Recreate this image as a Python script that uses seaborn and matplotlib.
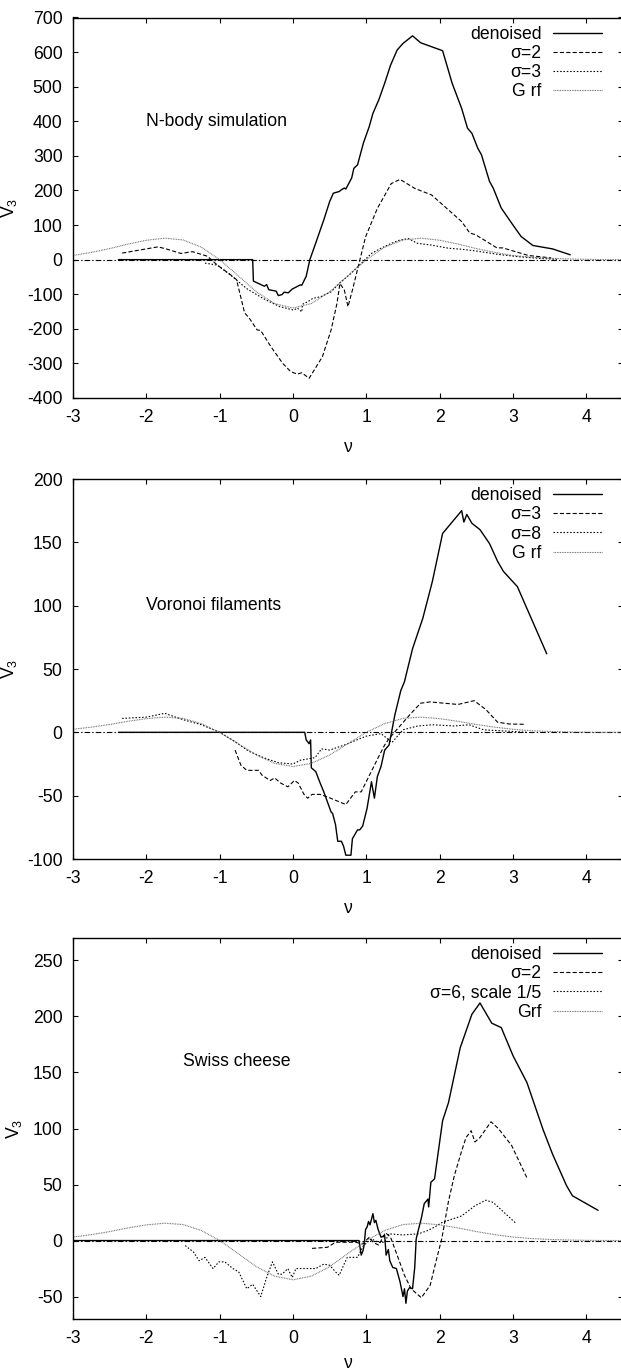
import matplotlib
matplotlib.use("Agg")
import matplotlib.pyplot as plt
import seaborn as sns
from matplotlib.lines import Line2D

# ---------------------------------------------------------------- data
# N-body simulation
nbody_den_nu = [-2.38, -0.55, -0.54, -0.39, -0.36, -0.33, -0.23, -0.20, -0.15, -0.12, -0.065, -0.01,
                0.10, 0.12, 0.18, 0.23, 0.31, 0.42, 0.50, 0.55, 0.63, 0.66, 0.70, 0.72, 0.74, 0.80,
                0.83, 0.88, 0.96, 1.04, 1.09, 1.17, 1.25, 1.33, 1.42, 1.50, 1.63, 1.74, 2.04, 2.17,
                2.30, 2.38, 2.44, 2.52, 2.57, 2.68, 2.73, 2.84, 2.98, 3.11, 3.27, 3.54, 3.78]
nbody_den_v = [0, 0, -62, -77, -72, -87, -91, -104, -101, -94, -96, -85,
               -73, -74, -48, 0, 48, 115, 168, 192, 197, 202, 207, 204, 212, 236,
               264, 274, 337, 385, 423, 462, 510, 562, 606, 625, 647, 627, 604, 510,
               437, 380, 365, 322, 303, 226, 207, 149, 106, 67, 41, 31, 14]

nbody_s2_nu = [-2.33, -2.22, -1.84, -1.73, -1.53, -1.37, -1.17, -1.03, -0.85, -0.77, -0.66, -0.60,
               -0.49, -0.44, -0.30, -0.14, -0.03, 0.06, 0.12, 0.22, 0.29, 0.40, 0.52, 0.60, 0.64,
               0.70, 0.75, 0.81, 0.90, 0.99, 1.15, 1.34, 1.46, 1.66, 1.89, 2.30, 2.41, 2.49, 2.78,
               2.86, 3.21, 3.52]
nbody_s2_v = [19, 23, 37, 31, 18, 23, 10, -16, -44, -58, -154, -168,
              -203, -205, -252, -300, -324, -331, -327, -343, -319, -281, -203, -126, -69,
              -88, -136, -88, -11, 66, 148, 220, 232, 206, 187, 110, 77, 72, 34,
              34, 12, 5]

nbody_s3_nu = [-1.20, -1.03, -0.85, -0.63, -0.41, -0.18, 0.01, 0.06, 0.12, 0.13, 0.20, 0.27, 0.38,
               0.52, 0.63, 0.79, 0.93, 1.07, 1.20, 1.34, 1.45, 1.57, 1.70, 1.89, 2.12, 2.30, 2.50,
               2.80, 3.10, 3.40, 3.60]
nbody_s3_v = [-10, -16, -45, -84, -112, -136, -146, -140, -151, -129, -122, -112, -107,
              -93, -69, -40, -11, 18, 33, 47, 56, 61, 47, 42, 33, 30, 25,
              15, 8, 3, 1]

grf_nu = [-3.0, -2.75, -2.5, -2.25, -2.0, -1.75, -1.5, -1.25, -1.0, -0.75, -0.5, -0.25, 0.0,
          0.25, 0.5, 0.75, 1.0, 1.25, 1.5, 1.75, 2.0, 2.25, 2.5, 2.75, 3.0, 3.25, 3.5, 3.75,
          4.0, 4.25, 4.5]
nbody_grf_v = [12, 21, 32, 45, 56, 62, 57, 36, 0, -46, -93, -127, -140,
               -127, -93, -46, 0, 36, 57, 62, 56, 45, 32, 21, 12, 7, 4, 2,
               1, 0, 0]

# Voronoi filaments
voro_den_nu = [-2.38, 0.16, 0.18, 0.22, 0.24, 0.25, 0.31, 0.37, 0.42, 0.47, 0.52, 0.54, 0.58, 0.61,
               0.66, 0.69, 0.72, 0.79, 0.81, 0.88, 0.91, 0.95, 1.01, 1.07, 1.11, 1.15, 1.20, 1.25,
               1.31, 1.39, 1.47, 1.52, 1.63, 1.77, 1.90, 2.04, 2.30, 2.33, 2.37, 2.44, 2.55, 2.68,
               2.79, 2.87, 3.06, 3.46]
voro_den_v = [0, 0, -6, -9, -6, -28, -31, -40, -47, -55, -63, -64, -73, -86,
              -86, -90, -97, -97, -84, -77, -77, -74, -60, -39, -52, -35, -27, -14,
              -10, 14, 33, 40, 66, 90, 119, 157, 175, 166, 172, 165, 160, 149,
              135, 127, 115, 62]

voro_s3_nu = [-0.79, -0.71, -0.63, -0.47, -0.42, -0.31, -0.25, -0.17, -0.07, 0.02, 0.07, 0.15,
              0.20, 0.26, 0.37, 0.47, 0.72, 0.85, 0.93, 1.17, 1.25, 1.31, 1.39, 1.61, 1.74, 1.87,
              2.25, 2.47, 2.63, 2.79, 2.95, 3.17]
voro_s3_v = [-14, -26, -30, -30, -34, -38, -36, -40, -43, -38, -40, -49,
             -52, -49, -49, -51, -57, -47, -47, -19, -10, -5, 0.5, 15, 23, 24,
             22, 25, 18, 8, 6.6, 6.3]

voro_s8_nu = [-2.33, -2.0, -1.75, -1.5, -1.25, -1.0, -0.8, -0.6, -0.4, -0.2, 0.0, 0.1, 0.3, 0.39,
              0.5, 0.7, 1.0, 1.2, 1.35, 1.5, 1.7, 1.9, 2.2, 2.4, 2.6, 2.9, 3.2]
voro_s8_v = [11, 12, 15, 10, 6, 0, -7, -15, -20, -24, -25, -22, -20, -13,
             -14, -10, -3, -1, -8, 2, 5, 6, 5, 6, 2, 1, 0]

voro_grf_v = [2.4, 4.1, 6.2, 8.7, 10.8, 12.0, 11.0, 6.9, 0, -8.9, -17.9, -24.5, -27,
              -24.5, -17.9, -8.9, 0, 6.9, 11.0, 12.0, 10.8, 8.7, 6.2, 4.1, 2.4, 1.3, 0.7, 0.3,
              0.1, 0, 0]

# Swiss cheese
swiss_den_nu = [-3.0, 0.90, 0.93, 0.955, 0.97, 0.99, 1.01, 1.03, 1.05, 1.07, 1.09, 1.11, 1.13, 1.16,
                1.20, 1.25, 1.27, 1.30, 1.32, 1.36, 1.41, 1.46, 1.50, 1.52, 1.54, 1.56, 1.59, 1.63,
                1.66, 1.68, 1.70, 1.75, 1.79, 1.84, 1.85, 1.88, 1.93, 2.04, 2.12, 2.28, 2.44, 2.55,
                2.71, 2.84, 3.00, 3.19, 3.41, 3.54, 3.73, 3.81, 4.16]
swiss_den_v = [0, 0, -13, -9, -4, 10, 12, 17, 14, 19, 24, 16, 18, 10,
               3, 4.5, -13, -8, -18, -24, -25, -37, -50, -43, -56, -45, -42, -43,
               -24, 1.5, 7, 20, 33, 37, 30, 52, 55, 107, 123, 172, 202, 212,
               194, 190, 165, 141, 99, 77, 49, 40, 27]

swiss_s2_nu = [0.26, 0.47, 0.58, 0.85, 0.95, 1.04, 1.10, 1.17, 1.26, 1.33, 1.42, 1.52, 1.61, 1.75,
               1.87, 1.96, 2.03, 2.12, 2.20, 2.30, 2.36, 2.43, 2.48, 2.55, 2.70, 2.80, 2.98, 3.19]
swiss_s2_v = [-7, -6, -1.5, -1.5, -3, 3, -2, -4, 7, 3, -13, -31, -43, -51,
              -40, -16, 2, 35, 58, 80, 92, 98, 88, 92, 106, 100, 85, 56]

swiss_s6_nu = [-1.47, -1.36, -1.28, -1.20, -1.09, -1.01, -0.93, -0.82, -0.74, -0.63, -0.55, -0.44,
               -0.36, -0.28, -0.20, -0.15, -0.07, -0.01, 0.04, 0.10, 0.31, 0.42, 0.50, 0.58, 0.63,
               0.69, 0.74, 0.88, 0.96, 1.07, 1.16, 1.25, 1.31, 1.50, 1.71, 1.84, 1.93, 2.03, 2.30,
               2.48, 2.63, 2.73, 3.03]
swiss_s6_v = [-4.5, -10, -18, -15, -25, -19, -19, -25, -28, -43, -39, -50,
              -33, -19, -30, -30, -25, -33, -25, -25, -25, -21, -22, -28, -31,
              -22, -15, -15, -4.5, 1.5, -1.5, -1.5, 6, 5, 6, 9, 12, 16, 22,
              31, 36, 34, 16]

swiss_grf_v = [3.1, 5.3, 8.0, 11.3, 14.0, 15.5, 14.3, 9.0, 0, -11.5, -23.3, -31.8, -35,
               -31.8, -23.3, -11.5, 0, 9.0, 14.3, 15.5, 14.0, 11.3, 8.0, 5.3, 3.1, 1.8, 1.0, 0.5,
               0.2, 0.1, 0]

x_ticks = [-3, -2, -1, 0, 1, 2, 3, 4]

# ---------------------------------------------------------------- style
sns.set_style("ticks")
plt.rcParams.update({
    "font.family": ["Liberation Sans", "DejaVu Sans"],
    "mathtext.fontset": "custom",
    "mathtext.rm": "Liberation Sans",
    "mathtext.it": "Liberation Sans",
    "font.size": 12.7,
    "axes.unicode_minus": False,
    "text.color": "black",
    "axes.labelcolor": "black",
    "lines.scale_dashes": False,
    "axes.linewidth": 1.0,
    "axes.edgecolor": "black",
    "xtick.direction": "in",
    "ytick.direction": "in",
    "xtick.top": True,
    "ytick.right": True,
    "xtick.major.size": 3.6,
    "ytick.major.size": 3.6,
    "xtick.major.width": 0.8,
    "ytick.major.width": 0.8,
    "xtick.major.pad": 8,
    "ytick.major.pad": 7.5,
    "xtick.color": "black",
    "ytick.color": "black",
    "xtick.labelcolor": "black",
    "ytick.labelcolor": "black",
    "xtick.labelsize": 12.7,
    "ytick.labelsize": 12.7,
})

STYLE = {
    "solid": dict(color="black", lw=1.0, linestyle="-"),
    "dash": dict(color="black", lw=0.8, linestyle=(0, (3.0, 1.6))),
    "dot": dict(color="black", lw=0.8, linestyle=(0, (1.1, 1.3))),
    "fine": dict(color="0.4", lw=0.8, linestyle=(0, (0.6, 0.6))),
}
ZERO_STYLE = dict(color="black", lw=0.8, linestyle=(0, (4.0, 1.5, 1.0, 1.5)))

W, H = 621, 1371
fig = plt.figure(figsize=(W / 100, H / 100), dpi=100)

left = 73 / W
width = 550 / W
panels = [
    # (top px, bottom px, x-label pad)
    (17.5, 398, 9),
    (479, 859, 9),
    (938, 1319, 6),
]

panel_specs = [
    dict(
        series=[
            (nbody_den_nu, nbody_den_v, "denoised", "solid"),
            (nbody_s2_nu, nbody_s2_v, "σ=2", "dash"),
            (nbody_s3_nu, nbody_s3_v, "σ=3", "dot"),
            (grf_nu, nbody_grf_v, "G rf", "fine"),
        ],
        ylim=(-400, 700), yticks=list(range(-400, 701, 100)),
        note="N-body simulation", note_xy=(-2.0, 400),
    ),
    dict(
        series=[
            (voro_den_nu, voro_den_v, "denoised", "solid"),
            (voro_s3_nu, voro_s3_v, "σ=3", "dash"),
            (voro_s8_nu, voro_s8_v, "σ=8", "dot"),
            (grf_nu, voro_grf_v, "G rf", "fine"),
        ],
        ylim=(-100, 200), yticks=list(range(-100, 201, 50)),
        note="Voronoi filaments", note_xy=(-2.0, 100),
    ),
    dict(
        series=[
            (swiss_den_nu, swiss_den_v, "denoised", "solid"),
            (swiss_s2_nu, swiss_s2_v, "σ=2", "dash"),
            (swiss_s6_nu, swiss_s6_v, "σ=6, scale 1/5", "dot"),
            (grf_nu, swiss_grf_v, "Grf", "fine"),
        ],
        ylim=(-70, 270), yticks=list(range(-50, 251, 50)),
        note="Swiss cheese", note_xy=(-1.5, 160),
    ),
]

for (top, bottom, xpad), spec in zip(panels, panel_specs):
    ax = fig.add_axes([left, 1 - bottom / H, width, (bottom - top) / H])
    ax.axhline(0, **ZERO_STYLE, zorder=1)
    handles = []
    for nu, v, label, style in spec["series"]:
        sns.lineplot(x=nu, y=v, ax=ax, estimator=None, sort=False,
                     legend=False, zorder=2, **STYLE[style])
        handles.append(Line2D([], [], **STYLE[style], label=label))
    ax.set_xlim(-3, 4.5)
    ax.set_ylim(*spec["ylim"])
    ax.set_xticks(x_ticks)
    ax.set_yticks(spec["yticks"])
    ax.set_xlabel("ν", fontsize=12.7, labelpad=xpad)
    ax.set_ylabel("V$_3$", fontsize=12.7, labelpad=6)
    ax.text(*spec["note_xy"], spec["note"], ha="left", va="center", fontsize=12.7)
    ax.legend(handles=handles, loc="upper right", bbox_to_anchor=(0.962, 0.978),
              frameon=False, markerfirst=False, borderpad=0, borderaxespad=0,
              handlelength=2.76, handletextpad=0.68, labelspacing=0.12,
              fontsize=12.7)

fig.savefig("out.png", dpi=100)
